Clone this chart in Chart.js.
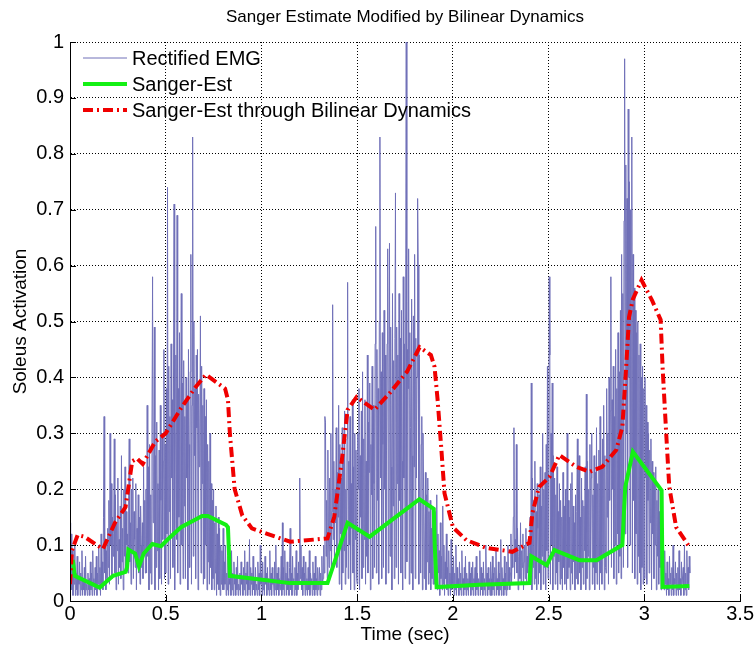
<!DOCTYPE html>
<html>
<head>
<meta charset="utf-8">
<title>Sanger Estimate Modified by Bilinear Dynamics</title>
<script src="https://cdn.jsdelivr.net/npm/chart.js@4.4.1/dist/chart.umd.min.js"></script>
<style>
  html, body { margin: 0; padding: 0; background: #ffffff; }
  #wrap { width: 755px; height: 649px; }
</style>
</head>
<body>
<div id="wrap"><canvas id="emgChart" width="755" height="649"></canvas></div>
<script>
// ==========================================
// DATA
// ==========================================

// Rectified EMG, one sample every 3.125 ms from t = 0 (32 samples per row = 0.1 s)
const emgSamplePeriod = 0.003125;
const emgValues = [
  0.14,0.03,0.12,0.02,0.09,0.01,0.06,0.03,0.10,0.01,0.05,0.02,0.08,0.01,0.04,0.03,0.07,0.01,0.05,0.02,0.09,0.01,0.04,0.02,0.06,0.01,0.08,0.02,0.03,0.01,0.05,0.02,
  0.04,0.01,0.07,0.02,0.05,0.01,0.09,0.03,0.04,0.01,0.06,0.02,0.08,0.01,0.05,0.03,0.10,0.02,0.06,0.01,0.12,0.03,0.07,0.02,0.15,0.33,0.05,0.11,0.02,0.09,0.04,0.13,
  0.06,0.18,0.03,0.30,0.10,0.21,0.04,0.15,0.08,0.12,0.29,0.05,0.19,0.02,0.14,0.09,0.22,0.03,0.11,0.06,0.17,0.04,0.26,0.07,0.13,0.02,0.20,0.08,0.24,0.05,0.16,0.10,
  0.12,0.05,0.18,0.29,0.07,0.14,0.03,0.20,0.09,0.22,0.04,0.16,0.11,0.06,0.21,0.02,0.13,0.08,0.19,0.05,0.15,0.03,0.17,0.10,0.06,0.14,0.04,0.24,0.09,0.18,0.05,0.20,
  0.05,0.35,0.08,0.24,0.02,0.28,0.05,0.19,0.03,0.30,0.58,0.14,0.22,0.49,0.02,0.26,0.06,0.32,0.09,0.21,0.02,0.27,0.04,0.35,0.18,0.03,0.30,0.11,0.25,0.45,0.04,0.28,
  0.05,0.38,0.12,0.74,0.03,0.42,0.16,0.33,0.04,0.46,0.22,0.36,0.06,0.40,0.71,0.02,0.30,0.44,0.11,0.69,0.05,0.38,0.15,0.48,0.03,0.34,0.55,0.10,0.39,0.04,0.43,0.17,
  0.33,0.04,0.40,0.22,0.36,0.02,0.45,0.28,0.06,0.41,0.62,0.03,0.35,0.83,0.08,0.50,0.26,0.38,0.04,0.44,0.31,0.45,0.02,0.37,0.24,0.30,0.51,0.05,0.42,0.21,0.35,0.03,
  0.38,0.04,0.33,0.10,0.36,0.02,0.28,0.07,0.25,0.03,0.30,0.06,0.21,0.02,0.18,0.04,0.20,0.02,0.14,0.05,0.17,0.01,0.12,0.03,0.15,0.02,0.13,0.01,0.10,0.03,0.09,0.02,
  0.13,0.02,0.07,0.03,0.10,0.01,0.05,0.02,0.08,0.01,0.04,0.03,0.06,0.01,0.09,0.02,0.05,0.01,0.07,0.03,0.04,0.01,0.06,0.02,0.08,0.01,0.03,0.02,0.05,0.01,0.07,0.03,
  0.04,0.01,0.06,0.02,0.09,0.01,0.05,0.03,0.07,0.01,0.04,0.02,0.11,0.01,0.06,0.03,0.05,0.01,0.08,0.02,0.04,0.01,0.06,0.02,0.03,0.01,0.07,0.02,0.05,0.01,0.10,0.03,
  0.05,0.01,0.07,0.02,0.04,0.01,0.08,0.03,0.05,0.01,0.06,0.02,0.04,0.01,0.09,0.02,0.05,0.01,0.06,0.03,0.04,0.01,0.07,0.02,0.10,0.01,0.05,0.02,0.06,0.01,0.04,0.02,
  0.03,0.08,0.01,0.14,0.02,0.06,0.01,0.09,0.03,0.05,0.01,0.07,0.02,0.04,0.01,0.06,0.13,0.02,0.05,0.01,0.08,0.03,0.04,0.01,0.06,0.02,0.09,0.01,0.05,0.02,0.07,0.03,
  0.22,0.04,0.10,0.02,0.06,0.01,0.08,0.03,0.05,0.01,0.07,0.02,0.04,0.01,0.06,0.02,0.09,0.01,0.05,0.03,0.04,0.01,0.07,0.02,0.05,0.01,0.08,0.02,0.04,0.01,0.06,0.02,
  0.03,0.06,0.01,0.05,0.02,0.08,0.03,0.04,0.10,0.05,0.33,0.32,0.08,0.18,0.04,0.27,0.12,0.06,0.22,0.09,0.30,0.05,0.16,0.53,0.11,0.25,0.07,0.20,0.14,0.31,0.06,0.23,
  0.15,0.35,0.03,0.28,0.12,0.22,0.02,0.31,0.05,0.26,0.09,0.34,0.03,0.20,0.06,0.29,0.57,0.04,0.25,0.10,0.33,0.02,0.21,0.13,0.36,0.05,0.24,0.02,0.30,0.11,0.27,0.04,
  0.03,0.30,0.20,0.38,0.02,0.26,0.15,0.34,0.04,0.41,0.06,0.29,0.11,0.36,0.03,0.25,0.08,0.44,0.05,0.32,0.23,0.39,0.02,0.28,0.19,0.42,0.04,0.35,0.21,0.06,0.46,0.67,
  0.05,0.45,0.18,0.38,0.03,0.50,0.83,0.22,0.41,0.04,0.48,0.28,0.06,0.52,0.20,0.44,0.03,0.27,0.46,0.63,0.05,0.40,0.64,0.08,0.49,0.24,0.02,0.55,0.17,0.43,0.04,0.47,
  0.73,0.06,0.49,0.21,0.44,0.03,0.55,0.18,0.47,0.05,0.52,0.25,0.02,0.58,0.22,0.46,0.04,0.50,1.00,0.07,0.45,0.38,0.63,0.03,0.48,0.31,0.05,0.54,0.26,0.02,0.51,0.24,
  0.62,0.04,0.47,0.22,0.40,0.72,0.60,0.03,0.44,0.18,0.05,0.28,0.33,0.02,0.30,0.20,0.04,0.10,0.23,0.02,0.19,0.07,0.22,0.03,0.16,0.05,0.18,0.02,0.13,0.04,0.15,0.03,
  0.05,0.16,0.03,0.11,0.07,0.19,0.02,0.12,0.05,0.09,0.01,0.14,0.04,0.08,0.02,0.17,0.03,0.10,0.01,0.07,0.04,0.12,0.02,0.06,0.01,0.09,0.03,0.05,0.01,0.11,0.02,0.06,
  0.03,0.08,0.01,0.05,0.02,0.10,0.01,0.06,0.03,0.04,0.01,0.07,0.02,0.05,0.01,0.09,0.03,0.04,0.01,0.06,0.02,0.08,0.01,0.05,0.02,0.04,0.01,0.07,0.03,0.05,0.01,0.06,
  0.02,0.07,0.01,0.04,0.03,0.06,0.01,0.08,0.02,0.05,0.01,0.04,0.03,0.09,0.01,0.06,0.02,0.05,0.01,0.07,0.02,0.04,0.01,0.10,0.03,0.05,0.01,0.06,0.02,0.04,0.01,0.07,
  0.04,0.01,0.08,0.02,0.05,0.01,0.06,0.03,0.09,0.01,0.04,0.02,0.07,0.01,0.05,0.02,0.11,0.01,0.06,0.03,0.04,0.01,0.08,0.02,0.05,0.01,0.07,0.02,0.10,0.03,0.06,0.02,
  0.05,0.12,0.03,0.09,0.06,0.15,0.31,0.04,0.11,0.07,0.28,0.05,0.13,0.02,0.08,0.10,0.04,0.14,0.03,0.09,0.06,0.12,0.02,0.07,0.10,0.04,0.13,0.03,0.08,0.05,0.11,0.06,
  0.03,0.15,0.05,0.39,0.02,0.22,0.06,0.18,0.03,0.25,0.04,0.16,0.02,0.21,0.13,0.03,0.19,0.05,0.24,0.02,0.17,0.08,0.30,0.03,0.20,0.06,0.23,0.02,0.28,0.09,0.42,0.04,
  0.20,0.58,0.44,0.03,0.30,0.10,0.39,0.02,0.26,0.08,0.22,0.03,0.19,0.05,0.24,0.02,0.16,0.07,0.21,0.03,0.18,0.04,0.15,0.02,0.23,0.06,0.17,0.03,0.20,0.08,0.02,0.30,
  0.04,0.18,0.06,0.15,0.02,0.21,0.05,0.23,0.03,0.17,0.07,0.14,0.02,0.19,0.04,0.16,0.29,0.03,0.20,0.26,0.05,0.15,0.02,0.22,0.06,0.18,0.03,0.17,0.09,0.24,0.02,0.37,
  0.04,0.25,0.08,0.20,0.02,0.28,0.07,0.22,0.30,0.03,0.19,0.06,0.26,0.02,0.23,0.05,0.31,0.03,0.21,0.07,0.27,0.02,0.33,0.05,0.24,0.03,0.29,0.08,0.35,0.02,0.26,0.06,
  0.05,0.38,0.15,0.30,0.03,0.40,0.18,0.34,0.58,0.06,0.36,0.20,0.42,0.04,0.33,0.10,0.45,0.03,0.38,0.12,0.48,0.05,0.41,0.08,0.52,0.04,0.62,0.15,0.55,0.06,0.68,0.97,
  0.12,0.78,0.30,0.72,0.06,0.88,0.40,0.75,0.10,0.70,0.25,0.83,0.05,0.62,0.18,0.56,0.04,0.52,0.12,0.48,0.03,0.50,0.08,0.44,0.05,0.46,0.02,0.40,0.06,0.42,0.03,0.38,
  0.04,0.40,0.22,0.35,0.03,0.32,0.18,0.30,0.05,0.27,0.14,0.29,0.02,0.25,0.12,0.23,0.04,0.21,0.10,0.24,0.02,0.18,0.08,0.20,0.03,0.16,0.06,0.14,0.02,0.13,0.05,0.11,
  0.06,0.02,0.09,0.03,0.05,0.01,0.07,0.02,0.04,0.01,0.08,0.03,0.05,0.01,0.06,0.02,0.10,0.01,0.04,0.03,0.07,0.01,0.05,0.02,0.06,0.01,0.09,0.02,0.04,0.01,0.07,0.03,
  0.03,0.06,0.01,0.10,0.02,0.05,0.01,0.09,0.03,0.06,0.02,0.08,0.05
];

// Sanger estimate (sec, activation)
const sangerTimes = [
  0, 0.016, 0.025, 0.155, 0.225, 0.29, 0.298, 0.305, 0.34, 0.36,
  0.385, 0.43, 0.475, 0.51, 0.58, 0.69, 0.72, 0.815, 0.825, 0.835,
  1.15, 1.345, 1.45, 1.565, 1.825, 1.9, 1.905, 1.915, 2.14, 2.40,
  2.405, 2.41, 2.49, 2.53, 2.66, 2.75, 2.885, 2.9, 2.94, 3.09,
  3.095, 3.235
];
const sangerValues = [
  0.07, 0.07, 0.045, 0.024, 0.045, 0.052, 0.06, 0.092, 0.085, 0.062,
  0.085, 0.102, 0.098, 0.11, 0.132, 0.152, 0.152, 0.136, 0.132, 0.045,
  0.032, 0.032, 0.14, 0.115, 0.182, 0.165, 0.10, 0.025, 0.029, 0.032,
  0.06, 0.08, 0.064, 0.091, 0.073, 0.073, 0.10, 0.204, 0.267, 0.198,
  0.025, 0.027
];

// Sanger estimate passed through the bilinear dynamics
const bilinearTimes = [
  0, 0.01, 0.04, 0.075, 0.172, 0.235, 0.29, 0.325, 0.35, 0.38,
  0.445, 0.5, 0.58, 0.65, 0.71, 0.81, 0.825, 0.835, 0.86, 0.9,
  0.95, 1.03, 1.15, 1.345, 1.38, 1.42, 1.45, 1.497, 1.59, 1.67,
  1.76, 1.826, 1.885, 1.904, 1.92, 1.94, 1.956, 2.0, 2.07, 2.175,
  2.31, 2.40, 2.415, 2.45, 2.505, 2.556, 2.645, 2.713, 2.78, 2.853,
  2.885, 2.905, 2.92, 2.94, 2.985, 3.04, 3.085, 3.095, 3.114, 3.13,
  3.166, 3.235
];
const bilinearValues = [
  0.03, 0.09, 0.118, 0.115, 0.093, 0.14, 0.168, 0.25, 0.255, 0.245,
  0.285, 0.3, 0.345, 0.38, 0.405, 0.38, 0.36, 0.30, 0.20, 0.153,
  0.13, 0.12, 0.106, 0.112, 0.15, 0.252, 0.342, 0.365, 0.342, 0.372,
  0.41, 0.454, 0.44, 0.419, 0.36, 0.27, 0.193, 0.132, 0.109, 0.095,
  0.088, 0.104, 0.157, 0.204, 0.222, 0.261, 0.24, 0.231, 0.24, 0.27,
  0.311, 0.419, 0.508, 0.54, 0.574, 0.538, 0.503, 0.419, 0.30, 0.204,
  0.132, 0.097
];

const chartTitle = "Sanger Estimate Modified by Bilinear Dynamics";
const seriesLabels = ["Rectified EMG", "Sanger-Est", "Sanger-Est through Bilinear Dynamics"];
const xTickValues = [0, 0.5, 1, 1.5, 2, 2.5, 3, 3.5];
const yTickValues = [0, 0.1, 0.2, 0.3, 0.4, 0.5, 0.6, 0.7, 0.8, 0.9, 1];

// ==========================================
// HELPERS
// ==========================================

const toPoints = (xs, ys) => xs.map((x, i) => ({ x: x, y: ys[i] }));
const emgTimes = emgValues.map((_, i) => i * emgSamplePeriod);

const FONT = "'Liberation Sans', Arial, Helvetica, sans-serif";
Chart.defaults.font.family = FONT;
Chart.defaults.font.size = 20;
Chart.defaults.color = "#000";

// title over the plot, inward tick marks, solid axis lines and a boxless legend
const matlabAxes = {
  id: "matlabAxes",
  afterDraw(chart) {
    const { ctx, chartArea, scales } = chart;
    const left = chartArea.left, bottom = chartArea.bottom;

    ctx.save();
    ctx.fillStyle = "#000";
    ctx.textAlign = "center";
    ctx.textBaseline = "middle";
    ctx.font = "17px " + FONT;
    ctx.fillText(chartTitle, (chartArea.left + chartArea.right) / 2, 17);

    ctx.strokeStyle = "#000";
    ctx.lineWidth = 1;
    ctx.beginPath();
    scales.x.ticks.forEach((t) => {
      const px = Math.round(scales.x.getPixelForValue(t.value)) + 0.5;
      ctx.moveTo(px, bottom);
      ctx.lineTo(px, bottom - 6);
    });
    scales.y.ticks.forEach((t) => {
      const py = Math.round(scales.y.getPixelForValue(t.value)) + 0.5;
      ctx.moveTo(left, py);
      ctx.lineTo(left + 6, py);
    });
    ctx.moveTo(left + 0.5, chartArea.top);
    ctx.lineTo(left + 0.5, bottom + 0.5);
    ctx.lineTo(chartArea.right, bottom + 0.5);
    ctx.stroke();

    // legend
    ctx.font = "20px " + FONT;
    ctx.textAlign = "left";
    chart.data.datasets.forEach((ds, i) => {
      const y = chartArea.top + 16 + i * 26;
      const x0 = left + 13;
      ctx.setLineDash(ds.borderDash || []);
      ctx.strokeStyle = ds.borderColor;
      ctx.lineWidth = ds.borderWidth;
      ctx.beginPath();
      ctx.moveTo(x0, y);
      ctx.lineTo(x0 + 44, y);
      ctx.stroke();
      ctx.setLineDash([]);
      ctx.fillText(ds.label, x0 + 49, y + 1);
    });
    ctx.restore();
  },
};

// ==========================================
// CHART
// ==========================================

document.addEventListener("DOMContentLoaded", () => {
  const ctx = document.getElementById("emgChart").getContext("2d");

  new Chart(ctx, {
    type: "line",
    data: {
      datasets: [
        {
          label: seriesLabels[0],
          data: toPoints(emgTimes, emgValues),
          borderColor: "#7070b8",
          borderWidth: 1,
          pointRadius: 0,
          order: 2,
        },
        {
          label: seriesLabels[1],
          data: toPoints(sangerTimes, sangerValues),
          borderColor: "#14f014",
          borderWidth: 4,
          pointRadius: 0,
          order: 1,
        },
        {
          label: seriesLabels[2],
          data: toPoints(bilinearTimes, bilinearValues),
          borderColor: "#f00000",
          borderWidth: 4,
          borderDash: [10, 4, 2, 4],
          pointRadius: 0,
          order: 0,
        },
      ],
    },
    options: {
      responsive: false,
      animation: false,
      events: [],
      layout: { padding: { top: 42, right: 14 } },
      plugins: {
        legend: { display: false },
        tooltip: { enabled: false },
      },
      scales: {
        x: {
          type: "linear",
          min: 0,
          max: 3.5,
          afterFit: (s) => { s.height = 48; },
          afterBuildTicks: (s) => { s.ticks = xTickValues.map((v) => ({ value: v })); },
          ticks: { color: "#000", padding: 1, maxRotation: 0, autoSkip: false, callback: (v) => String(v) },
          grid: { color: "#000", drawTicks: false },
          border: { display: true, color: "#000", dash: [1, 2] },
          title: { display: true, text: "Time (sec)", color: "#000", font: { size: 19 }, padding: { bottom: 3 } },
        },
        y: {
          type: "linear",
          min: 0,
          max: 1,
          afterFit: (s) => { s.width = 70; },
          afterBuildTicks: (s) => { s.ticks = yTickValues.map((v) => ({ value: v })); },
          ticks: { color: "#000", padding: 6, autoSkip: false, callback: (v) => String(v) },
          grid: { color: "#000", drawTicks: false },
          border: { display: true, color: "#000", dash: [1, 2] },
          title: { display: true, text: "Soleus Activation", color: "#000", font: { size: 19 }, padding: { top: 9 } },
        },
      },
    },
    plugins: [matlabAxes],
  });
});
</script>
</body>
</html>
